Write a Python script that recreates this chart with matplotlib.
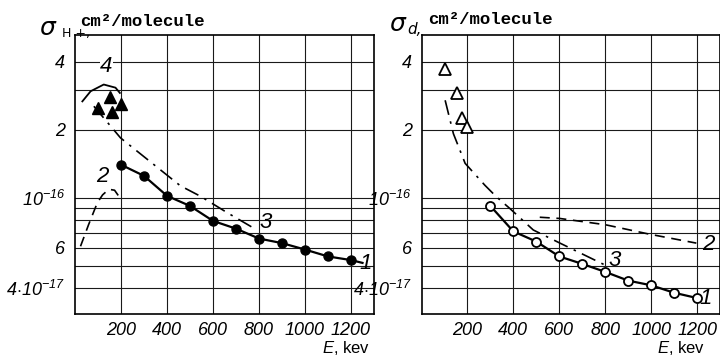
import matplotlib
matplotlib.use('Agg')
import matplotlib.pyplot as plt
from matplotlib.ticker import NullLocator

plt.rcParams['font.family'] = ['Liberation Sans', 'DejaVu Sans']
plt.rcParams['font.style'] = 'italic'
plt.rcParams['mathtext.fontset'] = 'custom'
plt.rcParams['mathtext.rm'] = 'Liberation Sans:italic'
plt.rcParams['mathtext.it'] = 'Liberation Sans:italic'

# sigma_H+ panel (left)
e_h1 = [200, 300, 400, 500, 600, 700, 800, 900, 1000, 1100, 1200]
s_h1 = [1.40e-16, 1.25e-16, 1.02e-16, 9.2e-17, 7.9e-17, 7.3e-17, 6.6e-17, 6.3e-17, 5.9e-17, 5.5e-17, 5.3e-17]
e_h1_tail = [1200, 1250]
s_h1_tail = [5.3e-17, 5.15e-17]
e_h2 = [24, 59, 97, 120, 147, 172, 195]
s_h2 = [6.1e-17, 7.6e-17, 9.5e-17, 1.03e-16, 1.09e-16, 1.08e-16, 1.0e-16]
e_h3 = [82, 198, 371, 458, 545, 661, 791]
s_h3 = [2.54e-16, 1.84e-16, 1.33e-16, 1.13e-16, 1.016e-16, 8.6e-17, 7.2e-17]
e_h4 = [32, 68, 125, 176, 195]
s_h4 = [2.67e-16, 2.96e-16, 3.17e-16, 3.07e-16, 2.91e-16]
e_h_tri = [100, 151, 162, 198]
s_h_tri = [2.50e-16, 2.80e-16, 2.39e-16, 2.61e-16]

# sigma_d panel (right)
e_d1 = [300, 400, 500, 600, 700, 800, 900, 1000, 1100, 1200]
s_d1 = [9.2e-17, 7.1e-17, 6.4e-17, 5.5e-17, 5.1e-17, 4.7e-17, 4.3e-17, 4.1e-17, 3.8e-17, 3.6e-17]
e_d2 = [515, 602, 800, 993, 1197]
s_d2 = [8.2e-17, 8.1e-17, 7.6e-17, 6.9e-17, 6.3e-17]
e_d3 = [103, 139, 190, 276, 327, 385, 487, 603, 806]
s_d3 = [2.70e-16, 1.92e-16, 1.42e-16, 1.136e-16, 1.008e-16, 8.96e-17, 7.2e-17, 6.3e-17, 5.0e-17]
e_d_tri = [103, 156, 175, 200]
s_d_tri = [3.73e-16, 2.91e-16, 2.26e-16, 2.05e-16]

x_ticks = [200, 400, 600, 800, 1000, 1200]
y_grid = [4e-17, 5e-17, 6e-17, 7e-17, 8e-17, 9e-17, 1e-16, 2e-16, 3e-16, 4e-16]
y_labels = [r'$4{\cdot}10^{-17}$', '', '6', '', '', '', r'$10^{-16}$', '2', '', '4']

W, H = 720, 358
fig = plt.figure(figsize=(7.2, 3.58), dpi=100)
ax1 = fig.add_axes([75 / W, 1 - 314 / H, 299 / W, 279 / H])
ax2 = fig.add_axes([421.5 / W, 1 - 314 / H, 298.5 / W, 279 / H])


def setup(ax):
    ax.set_yscale('log')
    ax.set_xlim(0, 1300)
    ax.set_ylim(3.06e-17, 5.25e-16)
    ax.yaxis.set_minor_locator(NullLocator())
    ax.set_yticks(y_grid, labels=y_labels, fontstyle='italic', fontsize=13)
    ax.set_xticks(x_ticks, labels=[str(v) for v in x_ticks], fontstyle='italic', fontsize=13)
    ax.tick_params(length=0, pad=6)
    ax.tick_params(axis='y', pad=7)
    ax.grid(True, color='#1a1a1a', lw=0.8)
    for sp in ax.spines.values():
        sp.set_linewidth(1.2)
    ax.set_axisbelow(True)


setup(ax1)
setup(ax2)

# left panel curves
ax1.plot(e_h1, s_h1, '-', color='black', lw=1.6, marker='o', ms=6.5)
ax1.plot(e_h1_tail, s_h1_tail, '-', color='black', lw=1.6)
ax1.plot(e_h2, s_h2, color='black', lw=1.2, dashes=(6, 4))
ax1.plot(e_h3, s_h3, color='black', lw=1.2, dashes=(9, 4, 1.5, 4))
ax1.plot(e_h4, s_h4, '-', color='black', lw=1.3)
ax1.plot(e_h_tri, s_h_tri, '^', color='black', ms=8, ls='none')

ax1.text(137, 3.81e-16, '4', fontsize=16, ha='center', va='center',
         bbox=dict(facecolor='white', edgecolor='none', pad=0.5))
ax1.text(120, 1.24e-16, '2', fontsize=16, ha='center', va='center')
ax1.text(827, 7.8e-17, '3', fontsize=16, ha='center', va='center')
ax1.text(1262, 5.1e-17, '1', fontsize=16, ha='center', va='center')

# right panel curves
ax2.plot(e_d1, s_d1, '-', color='black', lw=1.6, marker='o', ms=6.5,
         mfc='white', mec='black', mew=1.3)
ax2.plot(e_d2, s_d2, color='black', lw=1.2, dashes=(6, 4))
ax2.plot(e_d3, s_d3, color='black', lw=1.2, dashes=(9, 4, 1.5, 4))
ax2.plot(e_d_tri, s_d_tri, '^', ms=8, mfc='white', mec='black', mew=1.3, ls='none')

ax2.text(842, 5.3e-17, '3', fontsize=16, ha='center', va='center')
ax2.text(1250, 6.2e-17, '2', fontsize=16, ha='center', va='center')
ax2.text(1238, 3.6e-17, '1', fontsize=16, ha='center', va='center')

# axis titles
fig.text(39 / W, 1 - 28 / H, 'σ', fontsize=18, family='DejaVu Sans', style='italic', va='center')
fig.text(62 / W, 1 - 33 / H, 'H +,', fontsize=9, family='DejaVu Sans', style='normal', va='center')
fig.text(80 / W, 1 - 21 / H, 'cm²/molecule', fontsize=12.5, family='Liberation Mono',
         style='normal', weight='bold', va='center')
fig.text(389 / W, 1 - 24 / H, 'σ', fontsize=18, family='DejaVu Sans', style='italic', va='center')
fig.text(407 / W, 1 - 29 / H, 'd,', fontsize=11, family='DejaVu Sans', style='italic', va='center')
fig.text(428 / W, 1 - 20 / H, 'cm²/molecule', fontsize=12.5, family='Liberation Mono',
         style='normal', weight='bold', va='center')

fig.text(322 / W, 1 - 348 / H, r'$E$, kev', fontsize=12, style='normal', ha='left', va='center')
fig.text(657 / W, 1 - 348 / H, r'$E$, kev', fontsize=12, style='normal', ha='left', va='center')

fig.savefig('out.png', dpi=100)
